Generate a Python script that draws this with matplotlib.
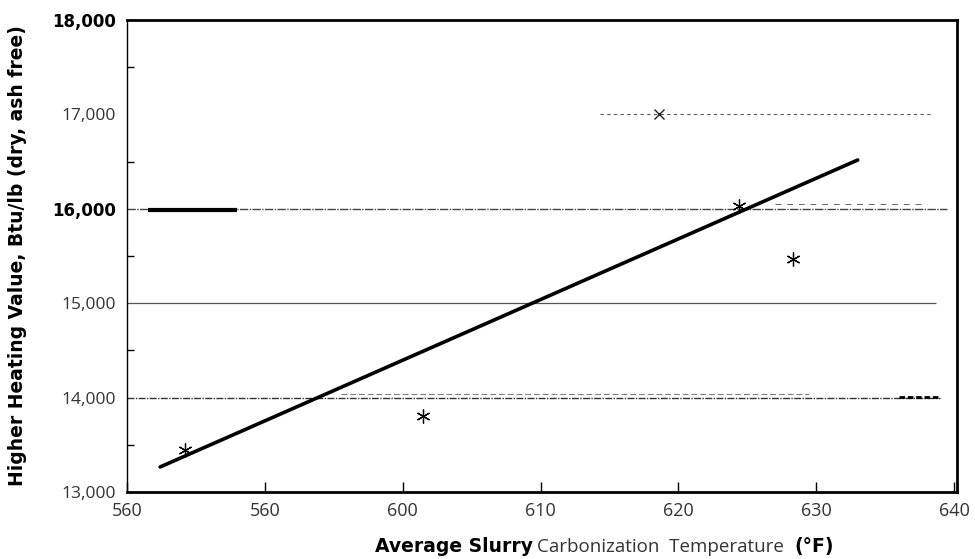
import matplotlib
matplotlib.use('Agg')
import matplotlib.pyplot as plt
from matplotlib.ticker import FixedLocator, MultipleLocator

# data
temp_points = [584.2, 601.5, 624.4, 628.3]
hhv_points = [13440, 13800, 16030, 15470]
temp_x = [618.6]
hhv_x = [17000]
fit_temp = [582.4, 633.0]
fit_hhv = [13265, 16517]

x_ticks = [580, 590, 600, 610, 620, 630, 640]
x_tick_labels = ['560', '560', '600', '610', '620', '630', '640']
y_ticks = [13000, 14000, 15000, 16000, 17000, 18000]
y_tick_labels = ['13,000', '14,000', '15,000', '16,000', '17,000', '18,000']
y_bold = ['16,000', '18,000']

fig = plt.figure(figsize=(9.75, 5.59), dpi=100)
ax = fig.add_axes([0.1303, 0.1199, 0.8512, 0.8443])
ax.set_xlim(580, 640.2)
ax.set_ylim(13000, 18000)

# reference lines of the original chart
ax.hlines(16000, 580, 639.5, colors='#444444', linewidth=1.0, linestyles=(0, (6, 1, 1, 1)))
ax.hlines(15990, 581.5, 588.0, colors='black', linewidth=3.0)
ax.hlines(15000, 580, 638.7, colors='#555555', linewidth=0.9)
ax.hlines(14000, 580, 639.0, colors='#333333', linewidth=1.0, linestyles=(0, (5, 1, 1, 1)))
ax.hlines(14040, 595.5, 629.5, colors='#777777', linewidth=0.7, linestyles=(0, (6, 3)))
ax.hlines(14010, 636.0, 639.0, colors='black', linewidth=2.0, linestyles=(0, (2, 1)))
ax.hlines(16050, 627.0, 638.0, colors='#666666', linewidth=0.7, linestyles=(0, (6, 6)))
ax.hlines(17000, 614.3, 638.4, colors='#555555', linewidth=0.8, linestyles=(0, (3, 3)))

ax.plot(fit_temp, fit_hhv, color='black', linewidth=2.6, solid_capstyle='round')
ax.plot(temp_points, hhv_points, linestyle='none', marker=(6, 2, 0), markersize=10,
        markeredgecolor='black', markeredgewidth=0.9)
ax.plot(temp_x, hhv_x, linestyle='none', marker='x', markersize=7,
        markeredgecolor='#222222', markeredgewidth=1.0)

for side in ['top', 'bottom', 'right']:
    ax.spines[side].set_linewidth(2.0)
ax.spines['left'].set_linewidth(1.0)

ax.xaxis.set_major_locator(FixedLocator(x_ticks))
ax.set_xticklabels(x_tick_labels, fontsize=13, family='Open Sans', color='#333333')
ax.tick_params(axis='x', direction='in', length=7, width=1.0, pad=7)

ax.yaxis.set_major_locator(FixedLocator(y_ticks))
ax.set_yticklabels(y_tick_labels, fontsize=12.5, family='Open Sans', color='#333333')
for lab in ax.get_yticklabels():
    if lab.get_text() in y_bold:
        lab.set_fontweight('bold')
        lab.set_color('black')
        lab.set_family('DejaVu Sans')
        lab.set_fontsize(12)
ax.tick_params(axis='y', which='major', length=0, pad=8)
ax.yaxis.set_minor_locator(MultipleLocator(500))
ax.tick_params(axis='y', which='minor', direction='in', length=5, width=1.0)

ax.set_ylabel('Higher Heating Value, Btu/lb (dry, ash free)', fontsize=13.5,
              fontweight='bold', family='DejaVu Sans', labelpad=18)

fig.text(0.385, 0.012, 'Average Slurry', fontsize=13.5, fontweight='bold',
         family='DejaVu Sans', ha='left')
fig.text(0.551, 0.012, 'Carbonization  Temperature', fontsize=13.5, family='Open Sans',
         color='#333333', ha='left')
fig.text(0.815, 0.012, '(°F)', fontsize=13.5, fontweight='bold',
         family='DejaVu Sans', ha='left')

fig.savefig('out.png', dpi=100)
